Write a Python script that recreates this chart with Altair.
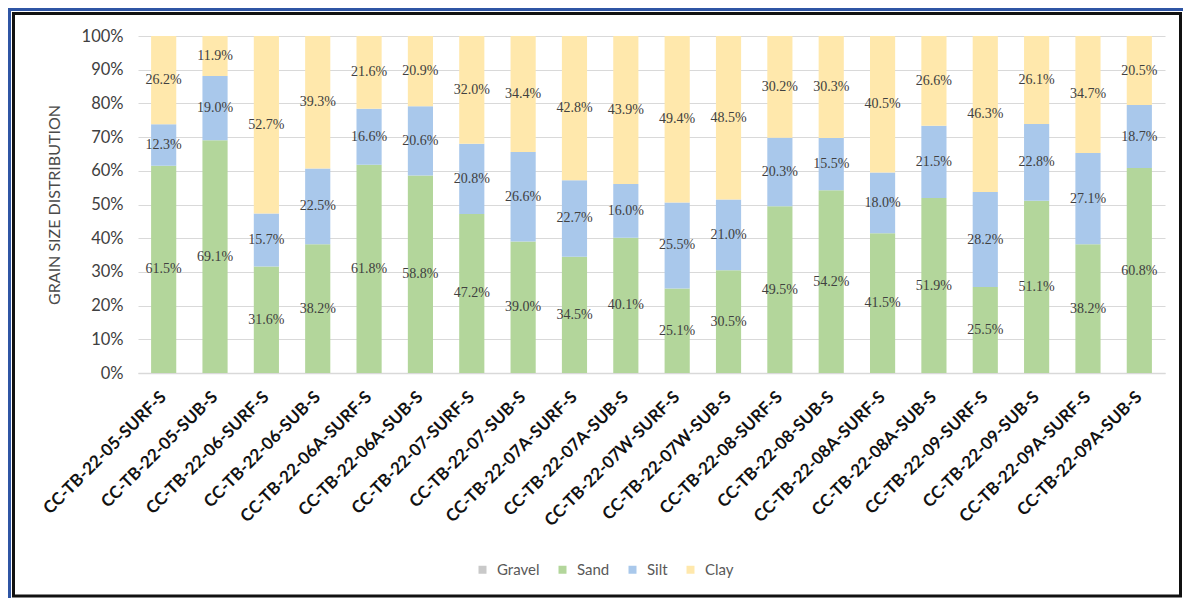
import altair as alt
import pandas as pd

samples = [
    "CC-TB-22-05-SURF-S", "CC-TB-22-05-SUB-S", "CC-TB-22-06-SURF-S", "CC-TB-22-06-SUB-S",
    "CC-TB-22-06A-SURF-S", "CC-TB-22-06A-SUB-S", "CC-TB-22-07-SURF-S", "CC-TB-22-07-SUB-S",
    "CC-TB-22-07A-SURF-S", "CC-TB-22-07A-SUB-S", "CC-TB-22-07W-SURF-S", "CC-TB-22-07W-SUB-S",
    "CC-TB-22-08-SURF-S", "CC-TB-22-08-SUB-S", "CC-TB-22-08A-SURF-S", "CC-TB-22-08A-SUB-S",
    "CC-TB-22-09-SURF-S", "CC-TB-22-09-SUB-S", "CC-TB-22-09A-SURF-S", "CC-TB-22-09A-SUB-S",
]
gravel = [0.0] * 20
sand = [61.5, 69.1, 31.6, 38.2, 61.8, 58.8, 47.2, 39.0, 34.5, 40.1,
        25.1, 30.5, 49.5, 54.2, 41.5, 51.9, 25.5, 51.1, 38.2, 60.8]
silt = [12.3, 19.0, 15.7, 22.5, 16.6, 20.6, 20.8, 26.6, 22.7, 16.0,
        25.5, 21.0, 20.3, 15.5, 18.0, 21.5, 28.2, 22.8, 27.1, 18.7]
clay = [26.2, 11.9, 52.7, 39.3, 21.6, 20.9, 32.0, 34.4, 42.8, 43.9,
        49.4, 48.5, 30.2, 30.3, 40.5, 26.6, 46.3, 26.1, 34.7, 20.5]
y_ticks = [0.0, 0.1, 0.2, 0.3, 0.4, 0.5, 0.6, 0.7, 0.8, 0.9, 1.0]

fractions = ["Gravel", "Sand", "Silt", "Clay"]
colors = ["#C9C9C9", "#B3D69B", "#A9C8EB", "#FFE8AC"]

rows = []
for i, s in enumerate(samples):
    for k, (name, series) in enumerate(zip(fractions, [gravel, sand, silt, clay])):
        rows.append({"sample": s, "fraction": name, "ord": k, "value": series[i]})
df = pd.DataFrame(rows)

W, H = 1027, 337
LEFT, TOP = 130, 28

yscale = alt.Scale(domain=[0, 1])
yaxis = alt.Axis(format=".0%", values=y_ticks, tickCount=20,
                 labelOverlap=False,
                 labelFont="Lato", labelFontSize=16.5, labelColor="#404040",
                 labelPadding=15, ticks=False, domain=False,
                 gridColor="#D9D9D9", gridWidth=1.2,
                 titleFont="Lato", titleFontSize=16, titleFontWeight="normal",
                 titleColor="#4A4A4A", titlePadding=19)
ytitle = "GRAIN SIZE DISTRIBUTION"
xenc = alt.X(
    "sample:N", sort=samples, title=None,
    scale=alt.Scale(paddingInner=0.51, paddingOuter=0.255),
    axis=alt.Axis(labelAngle=-45, labelAlign="right", labelBaseline="middle",
                  labelFont="Lato", labelFontWeight="bold", labelFontSize=17,
                  labelColor="#111111", labelPadding=21, ticks=False,
                  labelOverlap=False, labelLimit=400,
                  domainColor="#D9D9D9", domainWidth=1.5, grid=False),
)

base = alt.Chart(df)

bars = base.mark_bar().encode(
    x=xenc,
    y=alt.Y("value:Q", stack="normalize", scale=yscale, title=ytitle, axis=yaxis),
    color=alt.Color("fraction:N", sort=fractions,
                    scale=alt.Scale(domain=fractions, range=colors),
                    legend=alt.Legend(title=None, orient="none", direction="horizontal",
                                      legendX=337, legendY=526,
                                      symbolType="square", symbolSize=64,
                                      symbolStrokeWidth=0, labelFont="Lato",
                                      labelFontSize=15, labelColor="#595959",
                                      labelOffset=7, columnPadding=15)),
    order=alt.Order("ord:Q", sort="ascending"),
)

labels = base.transform_filter(
    alt.datum.value > 0
).transform_stack(
    stack="value", groupby=["sample"], as_=["y0", "y1"], offset="normalize",
    sort=[alt.SortField("ord", order="ascending")]
).transform_calculate(
    mid="(datum.y0 + datum.y1) / 2",
    lbl="format(datum.value, '.1f') + '%'"
).mark_text(font="Liberation Serif", fontSize=14, color="#404040").encode(
    x=xenc,
    y=alt.Y("mid:Q", scale=yscale, title=ytitle, axis=yaxis),
    text="lbl:N",
)

deco_df = pd.DataFrame({"a": [0]})
blue_left = alt.Chart(deco_df).mark_rule(color="#2F55A4", strokeWidth=3).encode(
    x=alt.value(-LEFT + 1.5), y=alt.value(-TOP), y2=alt.value(590 - TOP))
blue_top = alt.Chart(deco_df).mark_rule(color="#2F55A4", strokeWidth=3).encode(
    x=alt.value(-LEFT), x2=alt.value(1175 - LEFT), y=alt.value(-TOP + 1.5))
frame = alt.Chart(deco_df).mark_rect(fillOpacity=0, stroke="#111111", strokeWidth=3).encode(
    x=alt.value(-LEFT + 5.5), x2=alt.value(1172.5 - LEFT),
    y=alt.value(-TOP + 5.5), y2=alt.value(588 - TOP))

chart = alt.layer(bars, labels, blue_left, blue_top, frame).properties(
    width=W, height=H,
    autosize=alt.AutoSizeParams(type="none"),
    padding={"left": LEFT, "top": TOP, "right": 1175 - LEFT - W, "bottom": 590 - TOP - H},
).configure_view(stroke=None)

chart.save("out.html", embed_options={"renderer": "svg", "actions": False})
